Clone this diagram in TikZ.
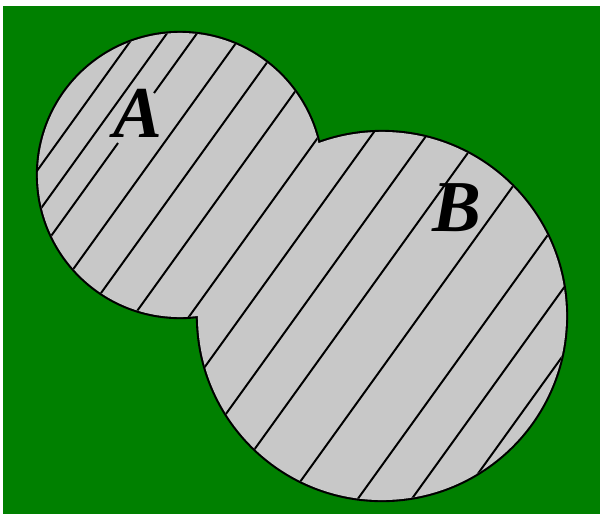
\documentclass[tikz,border=0pt]{standalone}
\usepackage{fontspec}
\setmainfont{Liberation Serif}
\definecolor{field}{RGB}{0,128,0}
\definecolor{disk}{RGB}{200,200,200}

\begin{document}
\begin{tikzpicture}[x=0.025cm,y=-0.025cm,
  rim/.style={draw=black,line width=3pt},
  hatch/.style={black,line width=1.4pt},
  setlabel/.style={font=\fontsize{52}{52}\selectfont\bfseries\itshape,inner sep=0pt}]
    % background
    \useasboundingbox (0,0) rectangle (600,514);
    \fill[field] (3,6) rectangle (600,514);
    % outline of the union, then the fill over its inner half
    \draw[rim] (180,175) circle (3.55cm) (382,316) circle (4.6cm);
    \fill[disk] (180,175) circle (3.55cm) (382,316) circle (4.6cm);
    % hatching
    \begin{scope}
      \clip (180,175) circle (3.55cm) (382,316) circle (4.6cm);
      \foreach \c in {-56,-25,51,96,145,201,253,308,362,431,501,555,603}
        \draw[hatch] ({\c+223.2},-10) -- ({\c-158.4},520);
      % the line broken by the label
      \draw[hatch] ({5+223.2},-10) -- ({5+0.72*(300-93)},93);
      \draw[hatch] ({5+0.72*(300-143)},143) -- ({5-158.4},520);
    \end{scope}
    \node[setlabel] (labelA) at (138,113) {A};
    \node[setlabel] (labelB) at (457,208) {B};
\end{tikzpicture}
\end{document}
